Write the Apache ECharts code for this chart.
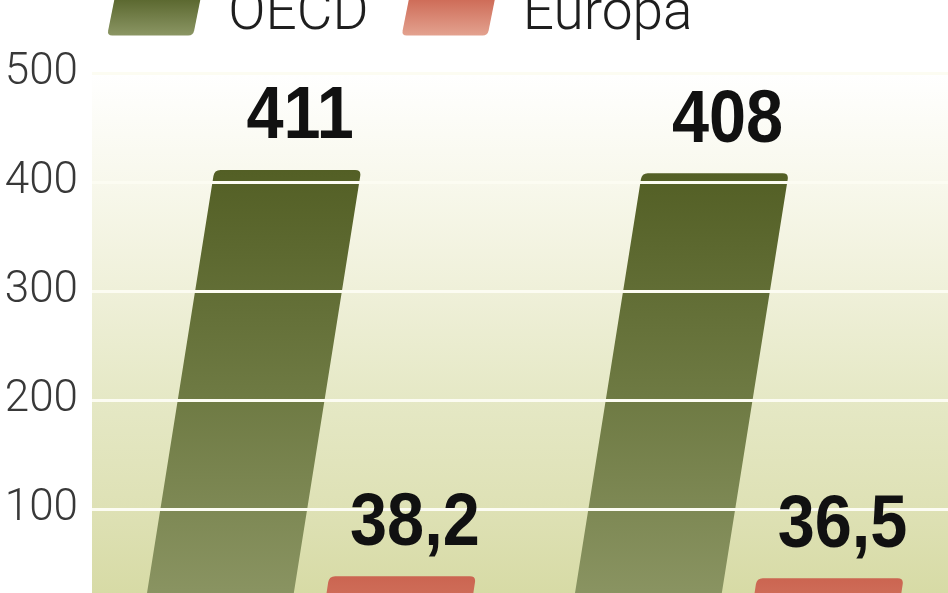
<!DOCTYPE html>
<html>
<head>
<meta charset="utf-8">
<script src="https://cdn.jsdelivr.net/npm/echarts@6/dist/echarts.min.js"></script>
<style>
  html, body { margin: 0; padding: 0; background: #fff; overflow: hidden; }
  /* wykres jest przyciety z gory i z dolu, tak jak w oryginale */
  #chart { position: absolute; left: 0; top: -20px; width: 948px; height: 638px; }
</style>
</head>
<body>
<div id="chart"></div>
<script>
// dane z wykresu
const categories = ['A', 'B']
const oecd = [411, 408]
const europa = [38.2, 36.5]
const yTicks = [0, 100, 200, 300, 400, 500]

// pochylenie slupkow (px w poziomie na px w pionie)
const slant = 0.16

const chart = echarts.init(document.getElementById('chart'))

const fmt = v => String(v).replace('.', ',')

// slupek w ksztalcie rownolegloboku, zaokraglony u gory
const barShape = (offset, fill) => (params, api) => {
  const base = api.coord([api.value(0), 0])
  const top = api.coord([api.value(0), api.value(1)])
  const band = api.size([1, 0])[0]
  const w = band * 0.343
  const h = base[1] - top[1]
  const l0 = base[0] + offset * band - w / 2
  const r = 6
  const tl = l0 + slant * h
  const tr = tl + w
  const yb = base[1] + 2
  const yt = top[1]
  const d = [
    'M', l0, yb,
    'L', l0 + w, yb,
    'L', tr - slant * r, yt + r,
    'Q', tr, yt, tr - r, yt,
    'L', tl + r, yt,
    'Q', tl, yt, tl - slant * r, yt + r,
    'Z'
  ].join(' ')
  return {
    type: 'path',
    shape: { pathData: d },
    style: { fill: fill }
  }
}

const labelShape = (offset) => (params, api) => {
  const base = api.coord([api.value(0), 0])
  const top = api.coord([api.value(0), api.value(1)])
  const band = api.size([1, 0])[0]
  const h = base[1] - top[1]
  const cx = base[0] + offset * band + slant * (h + 52) + 4
  return {
    type: 'text',
    x: cx,
    y: top[1] - 52,
    scaleX: 0.9,
    style: {
      text: fmt(api.value(1)),
      fontFamily: "'Liberation Sans', Arial, sans-serif",
      fontWeight: 'bold',
      fontSize: 74,
      fill: '#111',
      align: 'center',
      verticalAlign: 'middle'
    }
  }
}

const grad = (stops) => new echarts.graphic.LinearGradient(0, 0, 0, 1,
  stops.map(c => ({ offset: c[0], color: c[1] })))

const oecdFill = grad([[0, '#535f25'], [0.5, '#6e7a43'], [0.95, '#8a9462'], [1, '#8c9665']])
const europaFill = grad([[0, '#cb6551'], [1, '#d47762']])

const iconPath = 'path://M5,40 L81,40 Q86,40 87,35 L93,5 Q94,0 89,0 L13,0 Q8,0 7,5 L1,35 Q0,40 5,40 Z'

const option = {
  animation: false,
  legend: {
    left: 108,
    top: 8,
    padding: 0,
    itemWidth: 94,
    itemHeight: 40,
    itemGap: 34,
    icon: iconPath,
    textStyle: {
      fontFamily: 'Roboto',
      fontWeight: 300,
      fontSize: 55,
      color: '#1e1e1e',
      padding: [0, 0, 0, 22]
    },
    data: [
      { name: 'OECD', itemStyle: { color: grad([[0, '#56632a'], [1, '#8b9664']]) } },
      { name: 'Europa', itemStyle: { color: grad([[0, '#cc6652'], [1, '#e3a28f']]) } }
    ]
  },
  grid: {
    left: 92,
    right: 0,
    top: 93,
    bottom: 0,
    outerBoundsMode: 'none',
    show: true,
    borderWidth: 0,
    backgroundColor: grad([
      [0, '#ffffff'],
      [0.2, '#f8f8ec'],
      [0.4, '#eff0d9'],
      [0.6, '#e5e8c5'],
      [0.8, '#dee1b5'],
      [1, '#d5d9a1']
    ])
  },
  xAxis: {
    type: 'category',
    data: categories,
    axisLine: { show: false },
    axisTick: { show: false },
    axisLabel: { show: false }
  },
  yAxis: {
    type: 'value',
    min: yTicks[0],
    max: yTicks[yTicks.length - 1],
    interval: 100,
    z: 2,
    axisLine: { show: false },
    axisTick: { show: false },
    axisLabel: {
      margin: 14,
      fontFamily: 'Roboto',
      fontWeight: 300,
      fontSize: 44,
      color: '#383838'
    },
    splitLine: { lineStyle: { color: '#fcfcf2', width: 3 } }
  },
  series: [
    {
      name: 'OECD',
      type: 'custom',
      z: 1,
      itemStyle: { color: '#6d7941' },
      renderItem: barShape(-0.21, oecdFill),
      data: oecd.map((v, i) => [i, v])
    },
    {
      name: 'Europa',
      type: 'custom',
      z: 1,
      itemStyle: { color: '#cd6853' },
      renderItem: barShape(0.21, europaFill),
      data: europa.map((v, i) => [i, v])
    },
    {
      type: 'custom',
      z: 3,
      silent: true,
      renderItem: labelShape(-0.21),
      data: oecd.map((v, i) => [i, v])
    },
    {
      type: 'custom',
      z: 3,
      silent: true,
      renderItem: labelShape(0.21),
      data: europa.map((v, i) => [i, v])
    }
  ]
}

chart.setOption(option)
</script>
</body>
</html>
